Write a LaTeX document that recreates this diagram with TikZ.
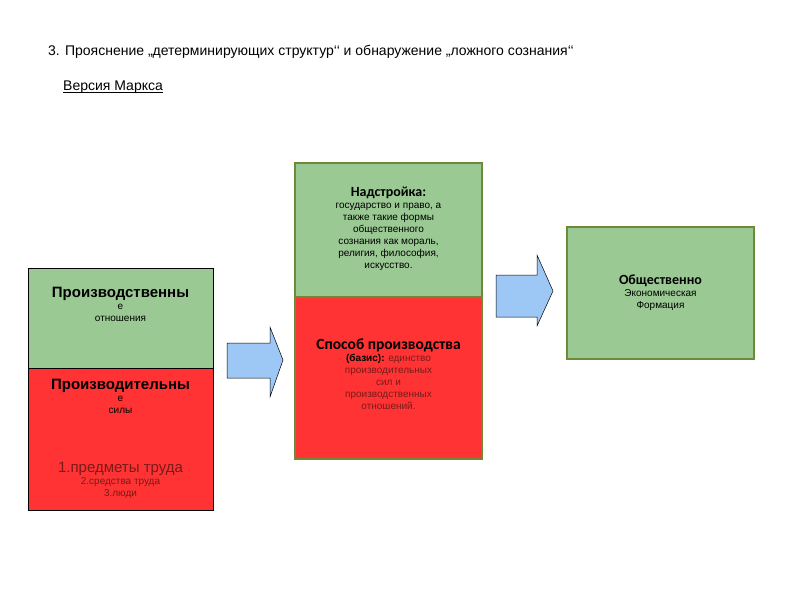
\documentclass[tikz,border=0pt]{standalone}
\usepackage{fontspec}
\setmainfont{Liberation Sans}
\newfontfamily\calfont{Carlito}
\definecolor{gr}{HTML}{9BC994}
\definecolor{rd}{HTML}{FF3333}
\definecolor{ol}{HTML}{6E8A36}
\definecolor{dr}{HTML}{7A1A1A}
\definecolor{bl}{HTML}{9DC8F5}
\begin{document}
\begin{tikzpicture}[x=1pt,y=-1pt,
  arr/.style={draw=black,fill=bl,line width=0.5pt},
  txt/.style={align=center,inner sep=0pt}]
\useasboundingbox (0,0) rectangle (794,595);
% title
\node[anchor=west,inner sep=0pt] (t) at (48,52) {\fontsize{14}{16}\selectfont 3. Прояснение ,,детерминирующих структур‘‘ и обнаружение ,,ложного сознания‘‘};
\node[anchor=west,inner sep=0pt] (v) at (63,87) {\fontsize{14}{16}\selectfont Версия Маркса};
\draw[line width=0.6pt] ([yshift=-1.5pt]v.base west) -- ([yshift=-1.5pt]v.base east);
% left box
\path[fill=gr,draw=black,line width=0.5pt] (28,268) rectangle (213,368);
\path[fill=rd,draw=black,line width=0.5pt] (28,368) rectangle (213,510);
\node[txt] (lg) at (120.5,304) {\fontsize{15}{20}\selectfont\bfseries Производственны\\е\\отношения};
\node[txt] (lr) at (120.5,396) {\fontsize{15}{20}\selectfont\bfseries Производительны\\е\\силы};
\node[txt,text=dr] (ll) at (120.5,480) {\fontsize{15}{20}\selectfont 1.предметы труда\\2.средства труда\\3.люди};
% arrow 1
\draw[arr] (227,343) -- (270,343) -- (270,327) -- (283,360) -- (270,397) -- (270,378) -- (227,378) -- cycle;
% middle box
\path[fill=gr,draw=ol,line width=1.2pt] (295,163) rectangle (482,297);
\path[fill=rd,draw=ol,line width=1.2pt] (295,297) rectangle (482,459);
\node[txt] (mg) at (388.5,229) {\calfont\fontsize{14}{19}\selectfont\textbf{Надстройка:}\\государство и право, а\\также такие формы\\общественного\\сознания как мораль,\\религия, философия,\\искусство.};
\node[txt] (mr) at (388.5,374) {\calfont\fontsize{15.5}{21.5}\selectfont\textbf{Способ производства}\\\textbf{(базис):} \textcolor{dr}{единство}\\\textcolor{dr}{производительных}\\\textcolor{dr}{сил и}\\\textcolor{dr}{производственных}\\\textcolor{dr}{отношений.}};
% arrow 2
\draw[arr] (496,275) -- (537,275) -- (537,255) -- (553,291) -- (537,326) -- (537,317) -- (496,317) -- cycle;
% right box
\path[fill=gr,draw=ol,line width=1.2pt] (567,227) rectangle (754,359);
\node[txt] (rt) at (660.5,293) {\calfont\fontsize{14}{20}\selectfont\bfseries Общественно\\Экономическая\\Формация};
\end{tikzpicture}
\end{document}
